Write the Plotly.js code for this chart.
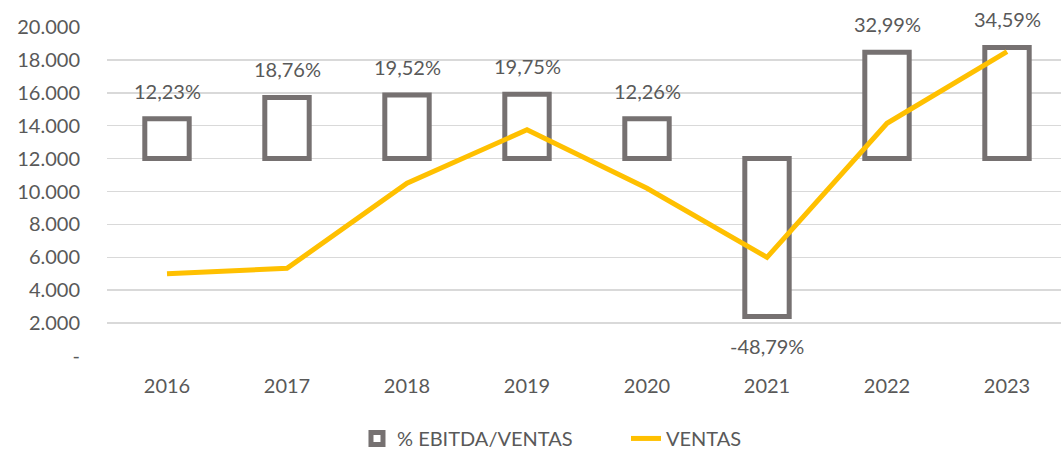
<!DOCTYPE html>
<html><head><meta charset="utf-8">
<script src="https://cdn.plot.ly/plotly-3.0.1.min.js"></script>
<style>html,body{margin:0;padding:0;background:#fff}#c{width:1061px;height:452px}</style>
</head><body><div id="c"></div>
<script>
const years = ['2016','2017','2018','2019','2020','2021','2022','2023'];
const ebitdaLabels = ['12,23%','18,76%','19,52%','19,75%','12,26%','-48,79%','32,99%','34,59%'];
const barBase = 12000;
const barEnds = [14420, 15720, 15870, 15910, 14420, 2400, 18460, 18760];
const ventas = [5000, 5330, 10500, 13750, 10200, 6000, 14150, 18500];
const yTickVals = [0,2000,4000,6000,8000,10000,12000,14000,16000,18000,20000];
const yTickText = ['-','2.000','4.000','6.000','8.000','10.000','12.000','14.000','16.000','18.000','20.000'];

const FONT = 'Lato, "Noto Sans", sans-serif';
const TXT = '#595959';

const barTrace = {
  type: 'bar', name: '% EBITDA/VENTAS', x: years,
  y: barEnds.map(v => v - barBase), base: years.map(() => barBase),
  width: 0.37,
  marker: {color: '#ffffff', line: {color: '#767171', width: 5}},
  hoverinfo: 'skip'
};
const lineTrace = {
  type: 'scatter', mode: 'lines', name: 'VENTAS', x: years, y: ventas,
  line: {color: '#FFC000', width: 5}, hoverinfo: 'skip'
};

const annotations = years.map((yr, i) => {
  const neg = barEnds[i] < barBase;
  return {
    x: i, y: barEnds[i], xref: 'x', yref: 'y', text: ebitdaLabels[i],
    showarrow: false, yanchor: neg ? 'top' : 'bottom',
    yshift: neg ? -15 : 14,
    font: {family: FONT, size: 20, color: TXT}
  };
});

const layout = {
  width: 1061, height: 452,
  margin: {l: 107, r: 0, t: 27, b: 96},
  paper_bgcolor: '#fff', plot_bgcolor: '#fff',
  font: {family: FONT, size: 20, color: TXT},
  xaxis: {
    type: 'category', range: [-0.5, 7.45], showgrid: false, zeroline: false,
    showline: false, ticks: '', ticklabelstandoff: 16,
    tickfont: {family: FONT, size: 20, color: TXT}, fixedrange: true
  },
  yaxis: {
    range: [0, 20000], tickvals: yTickVals, ticktext: yTickText,
    showgrid: true, gridcolor: '#D9D9D9', gridwidth: 1.5,
    zeroline: false, showline: false, ticks: '', ticklabelstandoff: 26,
    tickfont: {family: FONT, size: 20, color: TXT}, fixedrange: true
  },
  showlegend: true,
  legend: {
    orientation: 'h', xref: 'container', yref: 'container',
    x: 0.59, xanchor: 'center', y: 0.03, yanchor: 'middle',
    font: {family: FONT, size: 20, color: TXT},
    entrywidth: 224, traceorder: 'normal'
  },
  annotations: annotations
};

Plotly.newPlot('c', [barTrace, lineTrace], layout, {displayModeBar: false, staticPlot: true});
</script>
</body></html>
